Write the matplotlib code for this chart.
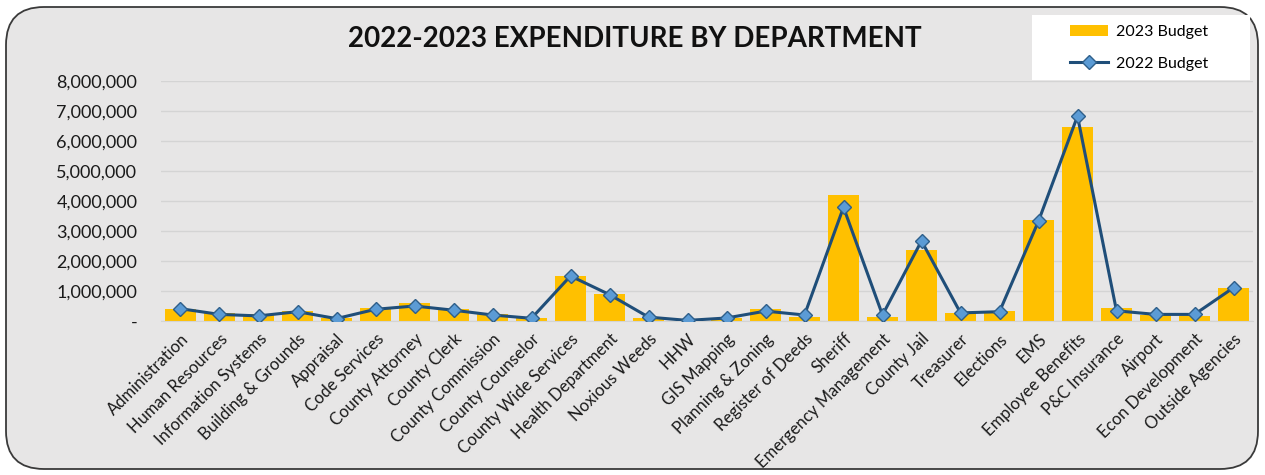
import matplotlib.pyplot as plt
from matplotlib.patches import FancyBboxPatch, Rectangle
from matplotlib.ticker import FuncFormatter

plt.rcParams["font.family"] = ["Lato", "DejaVu Sans"]

# data
departments = ["Administration", "Human Resources", "Information Systems", "Building & Grounds",
               "Appraisal", "Code Services", "County Attorney", "County Clerk", "County Commission",
               "County Counselor", "County Wide Services", "Health Department", "Noxious Weeds",
               "HHW", "GIS Mapping", "Planning & Zoning", "Register of Deeds", "Sheriff",
               "Emergency Management", "County Jail", "Treasurer", "Elections", "EMS",
               "Employee Benefits", "P&C Insurance", "Airport", "Econ Development", "Outside Agencies"]
budget_2023 = [400000, 260000, 220000, 330000, 100000, 430000, 600000, 390000, 220000,
               100000, 1500000, 900000, 100000, 0, 100000, 390000, 150000, 4200000,
               150000, 2370000, 280000, 340000, 3370000, 6470000, 430000, 200000, 180000, 1100000]
budget_2022 = [410000, 220000, 170000, 310000, 80000, 390000, 500000, 360000, 200000,
               90000, 1500000, 880000, 130000, 20000, 100000, 330000, 200000, 3790000,
               200000, 2670000, 270000, 310000, 3330000, 6830000, 340000, 220000, 220000, 1110000]

W, H = 1265, 475
fig = plt.figure(figsize=(W / 100, H / 100), dpi=100)
fig.patch.set_facecolor("white")

# rounded chart border
border = FancyBboxPatch((6 / W, 6 / H), 1252 / W, 462 / H,
                        boxstyle="round,pad=0,rounding_size=0.03",
                        transform=fig.transFigure, facecolor="#E7E6E6",
                        edgecolor="#3A3A3A", linewidth=1.3, mutation_aspect=W / H,
                        zorder=-5)
fig.patches.append(border)

# white legend box
fig.patches.append(Rectangle((1032 / W, 1 - 80 / H), 218 / W, 65 / H,
                             transform=fig.transFigure, facecolor="white",
                             edgecolor="none", zorder=-4))

ax = fig.add_axes([161 / W, 1 - 321 / H, 1092 / W, 240 / H])
ax.set_facecolor("none")

x = range(len(departments))
bars = ax.bar(x, budget_2023, width=0.82, color="#FFC000", label="2023 Budget", zorder=2)
line, = ax.plot(x, budget_2022, color="#1F4E79", linewidth=2.2, marker="D", markersize=7,
                markerfacecolor="#5B9BD5", markeredgecolor="#2E5F8A", markeredgewidth=1,
                label="2022 Budget", zorder=3)

ax.set_xlim(-0.5, len(departments) - 0.5)
ax.set_ylim(0, 8000000)
ax.set_yticks(range(0, 8000001, 1000000))
ax.yaxis.set_major_formatter(FuncFormatter(lambda v, p: "-" if v == 0 else f"{int(v):,}"))
ax.grid(axis="y", color="#D4D4D4", linewidth=1, zorder=0)
ax.set_axisbelow(True)
for s in ["top", "right", "left"]:
    ax.spines[s].set_visible(False)
ax.spines["bottom"].set_color("#D4D4D4")
ax.tick_params(axis="both", length=0, labelsize=12, colors="#1A1A1A")
ax.tick_params(axis="y", pad=17, labelsize=13)
ax.tick_params(axis="x", pad=7)
ax.set_xticks(list(x))
ax.set_xticklabels(departments, rotation=45, ha="right", rotation_mode="anchor")

fig.text(0.502, 0.918, "2022-2023 EXPENDITURE BY DEPARTMENT", ha="center", va="center",
         fontsize=20, fontweight="bold", color="#111111")

leg = fig.legend([bars, line], ["2023 Budget", "2022 Budget"], loc="upper left",
                 bbox_to_anchor=(1070 / W, 1 - 25 / H), frameon=False,
                 fontsize=11.5, labelspacing=1.1, borderpad=0,
                 handlelength=2.4, handletextpad=0.5, borderaxespad=0)

fig.savefig("out.png", dpi=100)
